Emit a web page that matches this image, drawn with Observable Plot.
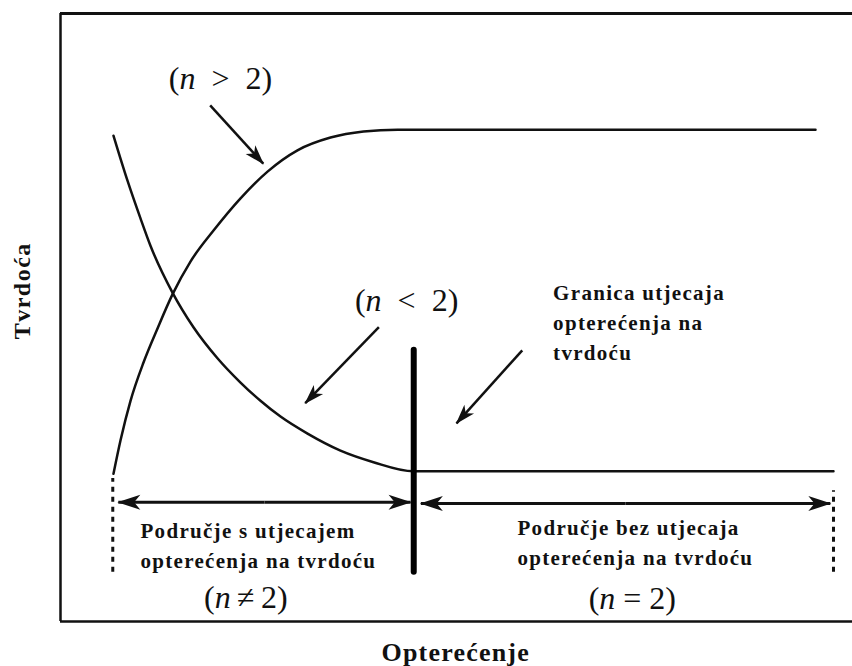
<!DOCTYPE html>
<html><head><meta charset="utf-8">
<script src="https://cdn.jsdelivr.net/npm/d3@7"></script>
<script src="https://cdn.jsdelivr.net/npm/@observablehq/plot@0.6"></script>
<style>
body{margin:0;background:#fff;}
svg{display:block;}
</style></head><body><div id="chart"></div>
<script>
// Curve n > 2 (hardness rises, then constant)
const loadHigh = [6.69, 7.58, 8.84, 10.48, 12.25, 14.14, 16.41, 19.32, 22.73, 26.14, 29.92, 34.09, 38.26, 42.55, 46.72, 95.33];
const hardHigh = [24.3, 29.8, 36.3, 42.6, 48.2, 53.8, 59.2, 64.3, 69.6, 74.0, 77.5, 79.6, 80.6, 80.9, 80.9, 80.9];
// Curve n < 2 (hardness falls, then constant)
const loadLow = [6.69, 8.46, 10.10, 11.36, 14.14, 16.79, 19.82, 22.73, 25.25, 27.78, 31.19, 35.35, 39.52, 44.57, 97.6];
const hardLow = [79.9, 72.5, 66.3, 61.8, 54.1, 48.4, 43.3, 39.3, 36.3, 33.7, 30.9, 28.1, 26.2, 24.7, 24.7];
// Boundary of load influence
const boundaryLoad = [44.6];
const boundaryBottom = [8.1];
const boundaryTop = [44.6];
// Region edges (dotted)
const edgeLoad = [6.6, 97.6];
const edgeBottom = [8.1, 8.1];
const edgeTop = [23.5, 21.5];
// Region double arrows
const spanX1 = [7.3, 45.5];
const spanX2 = [44.2, 97.2];
const spanY = [19.6, 19.4];
// Pointer arrows
const ptrX1 = [18.9, 40.2, 58.3];
const ptrY1 = [84.9, 48.4, 44.6];
const ptrX2 = [25.6, 30.9, 50.0];
const ptrY2 = [75.3, 35.9, 32.6];
// Math labels
const mathText = ["(n\u2002>\u20022)", "(n\u2002<\u20022)", "(n\u2009\u2260\u20092)", "(n = 2)"];
const mathX = [20.2, 43.7, 23.4, 72.2];
const mathY = [89.3, 52.8, 3.9, 3.8];
// Text labels
const noteText = ["Granica utjecaja\nopterećenja na\ntvrdoću", "Područje s utjecajem\nopterećenja na tvrdoću", "Područje bez utjecaja\nopterećenja na tvrdoću"];
const noteX = [62.2, 10.1, 57.7];
const noteY = [49.6, 12.9, 13.4];
const xTitle = "Opterećenje";
const yTitle = "Tvrdoća";

const high = loadHigh.map((x, i) => ({x, y: hardHigh[i]}));
const low = loadLow.map((x, i) => ({x, y: hardLow[i]}));
const edges = edgeLoad.map((x, i) => ({x, y1: edgeBottom[i], y2: edgeTop[i]}));
// each double arrow drawn as two halves from its middle, each with an end head
const spans = spanX1.flatMap((x1, i) => {
  const m = (x1 + spanX2[i]) / 2;
  return [{x1: m, x2: x1, y: spanY[i]}, {x1: m, x2: spanX2[i], y: spanY[i]}];
});
const ptrs = ptrX1.map((x1, i) => ({x1, y1: ptrY1[i], x2: ptrX2[i], y2: ptrY2[i]}));
const maths = mathText.map((t, i) => ({t, x: mathX[i], y: mathY[i]}));
const notes = noteText.map((t, i) => ({t, x: noteX[i], y: noteY[i]}));

const ink = "#111";
const serif = "Liberation Serif, Times New Roman, serif";

const svg = Plot.plot({
  width: 852,
  height: 666,
  marginLeft: 60,
  marginRight: 0,
  marginTop: 13,
  marginBottom: 45,
  x: {domain: [0, 100], axis: null},
  y: {domain: [0, 100], axis: null},
  style: {background: "#fff"},
  marks: [
    Plot.ruleX([0], {y1: 0, y2: 100, stroke: ink, strokeWidth: 2.5}),
    Plot.ruleY([100], {x1: 0, x2: 100, stroke: ink, strokeWidth: 3}),
    Plot.ruleY([0], {x1: 0, x2: 100, stroke: ink, strokeWidth: 2.5}),
    Plot.line(high, {x: "x", y: "y", curve: "monotone-x", stroke: ink, strokeWidth: 2.5}),
    Plot.line(low, {x: "x", y: "y", curve: "monotone-x", stroke: ink, strokeWidth: 2.5}),
    Plot.ruleX(boundaryLoad, {y1: boundaryBottom, y2: boundaryTop, stroke: "#000", strokeWidth: 6, strokeLinecap: "round"}),
    Plot.ruleX(edges, {x: "x", y1: "y1", y2: "y2", stroke: ink, strokeWidth: 3, strokeDasharray: "5,5"}),
    Plot.link(spans, {x1: "x1", x2: "x2", y1: "y", y2: "y", stroke: ink, strokeWidth: 3, markerEnd: "arrow"}),
    Plot.link(ptrs, {x1: "x1", y1: "y1", x2: "x2", y2: "y2", stroke: ink, strokeWidth: 2.5, markerEnd: "arrow"}),
    Plot.text(maths, {x: "x", y: "y", text: "t", fontFamily: serif, fontSize: 32, fill: ink}),
    Plot.text(notes, {x: "x", y: "y", text: "t", textAnchor: "start", fontFamily: serif, fontWeight: "bold", fontSize: 21, lineHeight: 1.43, fill: ink}),
    Plot.text([xTitle], {x: [49.9], y: [-5.1], text: d => d, fontFamily: serif, fontWeight: "bold", fontSize: 26, fill: ink}),
    Plot.text([yTitle], {x: [-4.8], y: [54.4], text: d => d, rotate: -90, fontFamily: serif, fontWeight: "bold", fontSize: 24, fill: ink})
  ]
});

const s = d3.select(svg);
// Filled arrowheads (orient along the path end)
s.selectAll("marker").each(function() {
  const g = this.parentNode;
  const big = g && g.getAttribute("stroke-width") === "3";
  const L = big ? 22 : 19, W = big ? 7.5 : 6.5;
  d3.select(this)
    .attr("orient", "auto")
    .attr("viewBox", "-26 -10 28 20")
    .attr("markerUnits", "userSpaceOnUse")
    .attr("markerWidth", 28).attr("markerHeight", 20)
    .attr("fill", ink).attr("stroke", "none");
  d3.select(this).selectAll("*").remove();
  d3.select(this).append("path")
    .attr("d", `M${-L},${-W}L1,0L${-L},${W}L${-L * 0.72},0Z`)
    .attr("fill", ink).attr("stroke", "none");
});
// italic n in math labels
s.selectAll("text").filter(function() { return /^\(n/.test(this.textContent); }).each(function() {
  const t = this.textContent; const i = t.indexOf("n");
  this.textContent = "";
  const e = d3.select(this);
  e.append("tspan").text(t.slice(0, i));
  e.append("tspan").attr("font-style", "italic").text("n");
  e.append("tspan").text(t.slice(i + 1));
});
s.selectAll("text").filter(function() { return /Područje|Granica/.test(this.textContent); }).style("letter-spacing", "1.3px");
s.selectAll("text").filter(function() { return this.textContent === xTitle; }).style("letter-spacing", "1.2px");
s.selectAll("text").filter(function() { return this.textContent === yTitle; }).style("letter-spacing", "1.5px");

document.getElementById("chart").appendChild(svg);
</script>
</body></html>
